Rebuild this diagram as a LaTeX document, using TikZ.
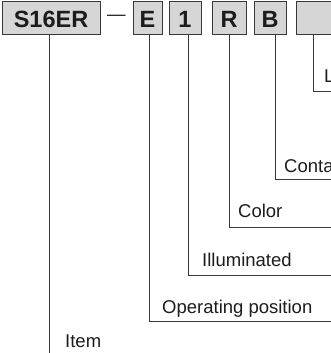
\documentclass[tikz,border=0pt]{standalone}
\usepackage{fontspec}
\setmainfont{Liberation Sans}
\usepackage{tikz}
\definecolor{boxgray}{HTML}{D6D6D6}
\definecolor{linegray}{HTML}{383838}
\definecolor{inkgray}{HTML}{1C1C1C}
\tikzset{every picture/.style={x=1bp,y=-1bp},
  code/.style={draw=linegray,line width=0.9bp,fill=boxgray,minimum height=33bp,inner sep=0pt,text height=19bp,text depth=0pt,text=inkgray,font=\fontsize{23.5bp}{26bp}\selectfont\bfseries},
  lbl/.style={anchor=base west,inner sep=0pt,text=inkgray,font=\fontsize{18.5bp}{22bp}\selectfont},
  conn/.style={draw=linegray,line width=0.9bp}}

\begin{document}
\begin{tikzpicture}
          \useasboundingbox (0,0) rectangle (331,353);

          \node[code,minimum width=98bp] (item) at (51, 17.5){S16ER};
          \node[lbl] (dash) at (107, 20.8){\textemdash};
          \node[code,minimum width=29bp] (opos) at (147.5, 17.5){E};
          \node[code,minimum width=32bp] (illum) at (185, 17.5){1};
          \node[code,minimum width=34bp] (color) at (229, 17.5){R};
          \node[code,minimum width=32bp] (cont) at (270, 17.5){B};
          \node[code,minimum width=40bp] (lamp) at (316, 17.5){};

          \node[lbl] (tlamp) at (324, 82){L};
          \node[lbl] (tcont) at (284, 172){Conta};
          \node[lbl] (tcolor) at (238, 217){Color};
          \node[lbl] (tillum) at (202, 266){Illuminated};
          \node[lbl] (topos) at (162, 313){Operating position};
          \node[lbl] (titem) at (65, 347){Item};

          \coordinate (klamp) at (313, 91);
          \coordinate (elamp) at (336, 91);
          \coordinate (kcont) at (275, 179);
          \coordinate (econt) at (336, 179);
          \coordinate (kcolor) at (229, 227);
          \coordinate (ecolor) at (336, 227);
          \coordinate (killum) at (188, 275);
          \coordinate (eillum) at (336, 275);
          \coordinate (kopos) at (149, 321);
          \coordinate (eopos) at (336, 321);
          \coordinate (eitem) at (49, 356);

          \draw[conn](lamp.south -| klamp)--(klamp)--(elamp);
          \draw[conn](cont.south -| kcont)--(kcont)--(econt);
          \draw[conn](color.south -| kcolor)--(kcolor)--(ecolor);
          \draw[conn](illum.south -| killum)--(killum)--(eillum);
          \draw[conn](opos.south -| kopos)--(kopos)--(eopos);
          \draw[conn](item.south -| eitem)--(eitem);

        \end{tikzpicture}
\end{document}
